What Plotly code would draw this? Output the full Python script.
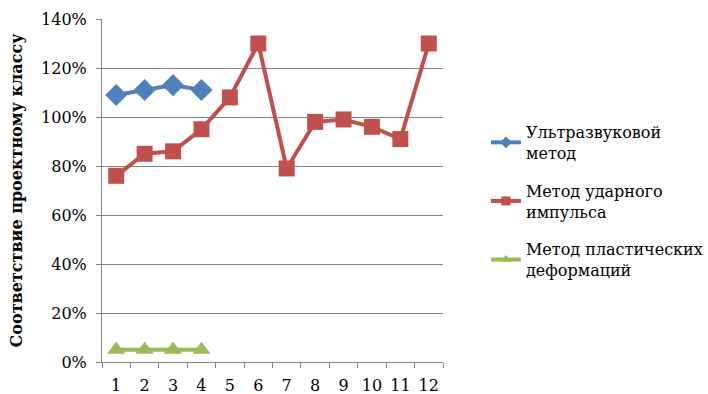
import plotly.graph_objects as go

categories = ["1", "2", "3", "4", "5", "6", "7", "8", "9", "10", "11", "12"]
ultrasonic = [1.09, 1.11, 1.13, 1.11, None, None, None, None, None, None, None, None]
impact = [0.76, 0.85, 0.86, 0.95, 1.08, 1.30, 0.79, 0.98, 0.99, 0.96, 0.91, 1.30]
plastic = [0.05, 0.05, 0.05, 0.05, None, None, None, None, None, None, None, None]
names = ["Ультразвуковой<br>метод", "Метод ударного<br>импульса", "Метод пластических<br>деформаций"]
colors = ["#4F81BD", "#C0504D", "#9BBB59"]
symbols = ["diamond", "square", "triangle-up"]
yticks = [0, 0.2, 0.4, 0.6, 0.8, 1.0, 1.2, 1.4]
ytext = ["0%", "20%", "40%", "60%", "80%", "100%", "120%", "140%"]

font = "DejaVu Serif"

fig = go.Figure()
for vals, name, col, sym, size in zip([ultrasonic, impact, plastic], names, colors, symbols, [17, 16, 16]):
    fig.add_trace(go.Scatter(x=categories, y=vals, name=name, mode="lines+markers", showlegend=False,
                             line=dict(color=col, width=4),
                             marker=dict(symbol=sym, size=size, color=col)))
for i, (name, col, sym) in enumerate(zip(names, colors, symbols)):
    fig.add_trace(go.Scatter(x=[None], y=[None], name=name, mode="lines+markers",
                             legendgroup=f"g{i}",
                             line=dict(color=col, width=4),
                             marker=dict(symbol=sym, size=9, color=col)))

fig.update_layout(
    width=708, height=394,
    margin=dict(l=102, r=265, t=19, b=32, autoexpand=False),
    plot_bgcolor="white", paper_bgcolor="white",
    font=dict(family=font, size=16, color="black"),
    legend=dict(x=1.126, y=0.72, xanchor="left", yanchor="top",
                font=dict(family=font, size=16, color="black"),
                tracegroupgap=14),
    xaxis=dict(type="category", tickson="boundaries", ticks="outside", ticklen=5,
               tickcolor="#868686", showline=True, linecolor="#868686", linewidth=1,
               showgrid=False, tickfont=dict(family=font, size=16), range=[-0.5, 11.5],
               tickangle=0, ticklabelstandoff=9, automargin=False),
    yaxis=dict(range=[0, 1.4], tickvals=yticks, ticktext=ytext, ticks="outside", ticklen=5,
               tickcolor="#868686", showline=True, linecolor="#868686", linewidth=1,
               showgrid=True, gridcolor="#868686", gridwidth=1, zeroline=False,
               tickfont=dict(family=font, size=16), automargin=False, ticklabelstandoff=6,
               title=dict(text="<b>Соответствие проектному классу</b>",
                          font=dict(family=font, size=16), standoff=14)),
)

fig.write_html("out.html")
